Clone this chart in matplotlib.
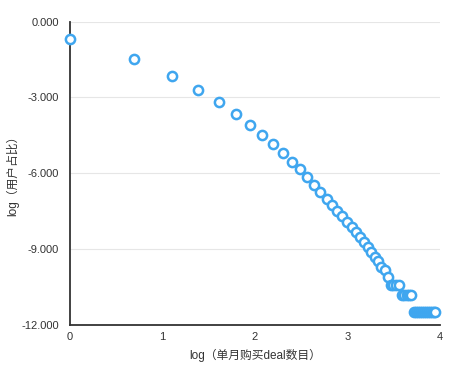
import matplotlib
matplotlib.use("Agg")
import matplotlib.pyplot as plt
from matplotlib.ticker import FormatStrFormatter

plt.rcParams['font.family'] = ['Liberation Sans', 'Noto Sans CJK SC', 'DejaVu Sans']

# log(monthly deals bought) -- x values
x_vals = [0.000, 0.693, 1.099, 1.386, 1.609, 1.792, 1.946, 2.079, 2.197, 2.303,
          2.398, 2.485, 2.565, 2.639, 2.708, 2.773, 2.833, 2.890, 2.944, 2.996,
          3.045, 3.091, 3.135, 3.178, 3.219, 3.258, 3.296, 3.332, 3.367, 3.401,
          3.434, 3.466, 3.497, 3.526, 3.555, 3.584, 3.611, 3.638, 3.664, 3.689,
          3.714, 3.738, 3.761, 3.784, 3.807, 3.829, 3.850, 3.871, 3.892, 3.912,
          3.932, 3.951]
# log(user share) -- y values
y_vals = [-0.70, -1.50, -2.15, -2.70, -3.20, -3.66, -4.10, -4.50, -4.85, -5.21,
          -5.54, -5.85, -6.14, -6.45, -6.74, -7.00, -7.27, -7.49, -7.68, -7.93,
          -8.13, -8.32, -8.52, -8.72, -8.92, -9.12, -9.31, -9.45, -9.71, -9.84,
          -10.11, -10.40, -10.40, -10.40, -10.40, -10.81, -10.81, -10.81, -10.81, -10.81,
          -11.50, -11.50, -11.50, -11.50, -11.50, -11.50, -11.50, -11.50, -11.50, -11.50,
          -11.50, -11.50]

x_ticks = [0, 1, 2, 3, 4]
y_ticks = [0, -3, -6, -9, -12]
x_label = "log（单月购买deal数目）"
y_label = "log（用户占比）"

fig = plt.figure(figsize=(4.56, 3.70), dpi=100)
ax = fig.add_axes([70/456, 1-325/370, 370/456, (325-21.5)/370])

ax.scatter(x_vals, y_vals, s=44, facecolor='white', edgecolor='#3fa6ef',
           linewidths=1.8, zorder=3, clip_on=False)

ax.set_xlim(0, 4)
ax.set_ylim(-12, 0)
ax.set_xticks(x_ticks)
ax.set_yticks(y_ticks)
ax.yaxis.set_major_formatter(FormatStrFormatter('%.3f'))
ax.tick_params(axis='both', length=0, labelsize=8, colors='#333333')
ax.tick_params(axis='y', pad=8)
ax.tick_params(axis='x', pad=5)

ax.grid(axis='y', color='#e6e6e6', linewidth=0.8)
ax.grid(axis='x', visible=False)
ax.set_axisbelow(True)
for s in ['top', 'right']:
    ax.spines[s].set_visible(False)
for s in ['left', 'bottom']:
    ax.spines[s].set_color('#333333')
    ax.spines[s].set_linewidth(1.3)
    ax.spines[s].set_zorder(2)

ax.set_xlabel(x_label, fontsize=8.5, color='#333333')
ax.set_ylabel(y_label, fontsize=8.5, color='#333333')
ax.xaxis.set_label_coords((255 - 70) / 370, -(349 - 325) / 303.5)
ax.yaxis.set_label_coords((19 - 70) / 370, 0.5)

fig.savefig('out.png', dpi=100, facecolor='white')
